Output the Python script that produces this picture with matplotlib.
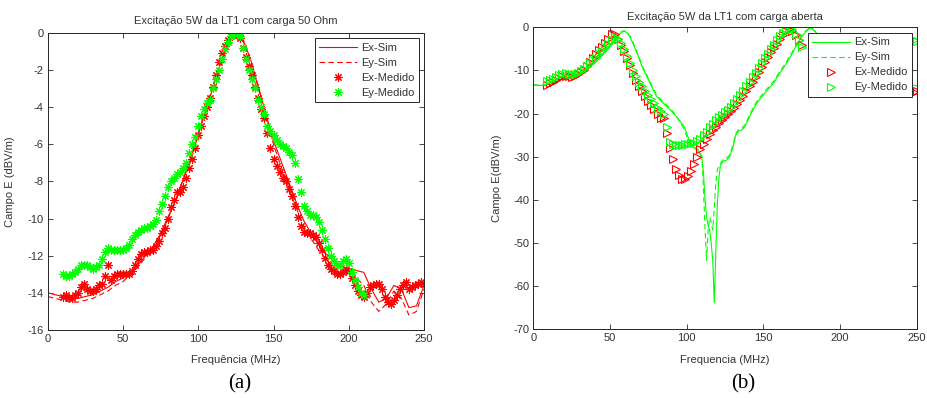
import numpy as np
import matplotlib
matplotlib.use("Agg")
import matplotlib.pyplot as plt

plt.rcParams['font.family'] = ['Liberation Sans', 'DejaVu Sans']

# ---------------- data: panel (a) ----------------
ex_med_a_start, med_a_step = 10, 2
ex_med_a = [-14.2, -14.1, -14.3, -14.3, -14.1, -14.0, -13.7, -13.5, -13.8, -13.9,
            -13.9, -13.8, -13.6, -13.5, -13.1, -12.5, -13.3, -13.1, -13.0, -13.0,
            -13.0, -13.0, -13.0, -12.8, -12.5, -12.2, -11.9, -11.8, -11.8, -11.7,
            -11.7, -11.5, -11.2, -10.8, -10.5, -10.0, -9.4, -9.0, -8.6, -8.6,
            -8.3, -7.8, -7.3, -6.8, -6.2, -5.5, -5.0, -4.5, -4.0, -3.5,
            -2.9, -2.3, -1.6, -1.1, -0.7, -0.4, -0.2, -0.05, -0.1, -0.3,
            -0.8, -1.3, -1.8, -2.3, -2.9, -3.5, -4.1, -4.6, -5.4, -6.2,
            -6.8, -7.2, -7.5, -7.8, -8.0, -8.4, -8.8, -9.3, -9.9, -10.4,
            -10.7, -10.8, -10.8, -10.9, -11.0, -11.3, -11.7, -12.1, -12.5, -12.7,
            -12.8, -13.0, -13.0, -12.9, -12.7, -12.8, -13.2, -13.6, -13.9, -14.1,
            -14.2, -14.0, -13.7, -13.6, -13.5, -13.5, -13.8, -14.2, -14.5, -14.6,
            -14.4, -14.1, -13.8, -13.6, -13.4, -13.8, -13.7, -13.6, -13.5, -13.4,
            -13.5]
ey_med_a_start = 10
ey_med_a = [-13.0, -13.1, -13.1, -13.0, -12.9, -12.7, -12.5, -12.5, -12.5, -12.6,
            -12.7, -12.6, -12.5, -12.2, -11.8, -11.6, -11.7, -11.7, -11.7, -11.7,
            -11.7, -11.6, -11.4, -11.1, -10.9, -10.7, -10.6, -10.5, -10.5, -10.4,
            -10.3, -10.1, -9.6, -9.2, -8.8, -8.3, -8.0, -7.8, -7.6, -7.5,
            -7.3, -7.0, -6.5, -6.0, -5.6, -5.0, -4.5, -4.1, -3.8, -3.6,
            -3.0, -2.5, -2.0, -1.4, -0.9, -0.5, -0.2, -0.05, 0.0, -0.2,
            -0.8, -1.4, -2.0, -2.5, -3.0, -3.6, -4.0, -4.4, -5.0, -5.3,
            -5.5, -5.8, -6.0, -6.1, -6.2, -6.4, -6.6, -7.0, -7.9, -8.6,
            -9.3, -9.6, -9.8, -9.8, -9.9, -10.2, -10.6, -11.1, -11.6, -12.0,
            -12.3, -12.5, -12.5, -12.3, -12.2, -12.4, -12.9, -13.3, -13.7, -14.0,
            -14.1]

sim_a_freq = [0, 5, 10, 15, 20, 25, 30, 35, 40, 45, 50, 55, 60, 65, 70, 75, 80, 85,
              90, 95, 100, 105, 110, 115, 120, 125, 130, 135, 140, 145, 150, 155,
              160, 165, 170, 175, 180, 185, 190, 195, 200, 205, 210, 215, 220, 225,
              230, 235, 240, 245, 250]
ex_sim_a = [-14.0, -14.1, -14.2, -14.3, -14.3, -14.2, -14.1, -13.9, -13.7, -13.4,
            -13.2, -12.9, -12.5, -12.0, -11.5, -10.8, -9.9, -9.0, -7.9, -6.8,
            -5.5, -4.2, -2.9, -1.6, -0.6, -0.05, -0.4, -1.5, -2.9, -4.4,
            -5.8, -6.9, -8.0, -9.1, -10.1, -10.8, -11.4, -11.9, -12.3, -12.6,
            -12.7, -12.8, -12.9, -13.8, -14.5, -14.3, -13.6, -13.8, -14.8, -14.7,
            -13.6]
ey_sim_a = [-14.2, -14.3, -14.4, -14.5, -14.5, -14.4, -14.3, -14.1, -13.9, -13.6,
            -13.4, -13.0, -12.6, -12.1, -11.6, -10.9, -10.0, -9.0, -7.9, -6.7,
            -5.4, -4.1, -2.8, -1.5, -0.5, -0.05, -0.5, -1.6, -3.0, -4.6,
            -6.0, -7.2, -8.3, -9.4, -10.4, -11.1, -11.7, -12.2, -12.6, -12.9,
            -13.1, -13.2, -13.6, -14.5, -15.0, -14.6, -13.9, -14.3, -15.2, -15.0,
            -13.8]

# ---------------- data: panel (b) ----------------
med_b_start, med_b_step = 9, 2
ex_med_b = [-13.4, -13.0, -12.6, -12.2, -11.8, -11.4, -11.3, -11.4, -11.5, -11.3,
            -10.9, -10.4, -9.8, -9.0, -8.0, -7.0, -6.2, -5.3, -4.6, -3.6,
            -2.6, -1.5, -1.6, -2.6, -4.0, -5.5, -7.2, -8.8, -10.5, -12.2,
            -13.6, -14.8, -16.0, -17.0, -18.0, -19.0, -20.0, -21.0, -21.0, -24.5,
            -28.0, -30.5, -32.8, -34.2, -35.2, -35.2, -34.5, -33.2, -31.8, -30.0,
            -28.2, -27.0, -25.8, -24.8, -23.8, -23.0, -22.2, -21.5, -20.8, -20.1,
            -19.4, -18.6, -17.8, -16.9, -15.9, -14.8, -13.7, -12.6, -11.5, -10.3,
            -9.1, -8.0, -6.9, -5.8, -4.7, -3.8, -2.8, -1.8, -0.9, -0.3,
            -0.8, -1.8, -3.0, -4.2]
ey_med_b = [-12.5, -12.2, -11.9, -11.5, -11.1, -10.8, -10.7, -10.8, -10.9, -10.8,
            -10.5, -10.1, -9.6, -9.0, -8.3, -7.6, -7.0, -6.2, -5.4, -4.6,
            -3.8, -3.0, -2.3, -2.6, -3.6, -5.0, -6.6, -8.2, -9.8, -11.3,
            -12.6, -13.7, -14.8, -15.6, -16.6, -17.6, -18.6, -19.4, -20.0, -23.0,
            -26.5, -27.0, -27.2, -27.3, -27.2, -27.1, -27.0, -26.9, -26.8, -26.4,
            -25.8, -25.0, -24.2, -23.0, -22.3, -21.6, -20.9, -20.3, -19.7, -19.1,
            -18.4, -17.6, -16.7, -15.8, -14.7, -13.6, -12.6, -11.6, -10.5, -9.4,
            -8.3, -7.2, -6.1, -5.0, -4.0, -3.0, -2.1, -1.3, -0.6, -0.1,
            -0.3, -1.6, -3.0, -4.6]
med_b_tail_freq = [248, 250]
ex_med_b_tail = [-15.0, -14.8]
ey_med_b_tail = [-3.0, -3.2]

ex_sim_b_freq = [0, 4, 8, 12, 16, 20, 25, 30, 35, 40, 45, 50, 54, 57, 59, 61, 63, 65,
                 68, 71, 74, 77, 80, 83, 86, 89, 92, 95, 98, 100, 102, 104, 106, 108,
                 110, 111, 112, 113, 114, 115, 116, 117, 118, 119, 120, 121, 122,
                 124, 126, 128, 130, 132, 134, 136, 138, 140, 142, 145, 148, 151,
                 154, 157, 160, 163, 166, 169, 172, 175, 178, 180, 182, 184, 190,
                 200, 215, 230, 250]
ex_sim_b = [-13.4, -13.5, -13.4, -13.0, -12.4, -11.9, -11.5, -11.0, -9.8, -8.3,
            -6.5, -4.5, -2.7, -1.3, -0.9, -1.2, -2.2, -3.8, -6.3, -9.2,
            -11.4, -13.6, -15.8, -17.0, -18.0, -19.0, -20.2, -21.4, -22.8, -24.5,
            -26.5, -27.8, -28.3, -28.8, -30.5, -34.0, -40.0, -44.0, -46.0, -47.0,
            -50.0, -54.0, -63.8, -52.0, -41.0, -35.0, -32.0, -31.0, -30.8, -30.0,
            -28.0, -25.0, -24.0, -23.8, -23.0, -21.5, -20.0, -18.0, -16.5, -15.3,
            -14.0, -12.8, -11.0, -9.5, -7.8, -6.0, -4.0, -2.2, -0.9, -0.3,
            -0.3, -1.0, -4.0, -8.0, -11.0, -12.8, -13.5]
ey_sim_b_freq = [0, 4, 8, 12, 16, 20, 25, 30, 35, 40, 45, 50, 54, 57, 59, 61, 63, 65,
                 68, 71, 74, 77, 80, 83, 86, 89, 92, 95, 98, 100, 102, 104, 106, 108,
                 110, 111, 112, 113, 114, 115, 116, 117, 118, 119, 120, 122, 124,
                 126, 128, 130, 132, 134, 136, 138, 140, 142, 145, 148, 151, 154,
                 157, 160, 163, 166, 169, 172, 175, 178, 180, 182, 184, 190, 200,
                 215, 230, 250]
ey_sim_b = [-13.3, -13.4, -13.3, -12.9, -12.3, -11.8, -11.4, -10.8, -9.6, -8.0,
            -6.2, -4.2, -2.4, -1.1, -0.8, -1.0, -2.0, -3.5, -6.0, -8.9,
            -11.1, -13.3, -15.4, -16.7, -17.7, -18.7, -19.9, -21.6, -23.4, -25.2,
            -26.8, -27.6, -28.0, -28.5, -30.0, -38.0, -47.0, -54.0, -47.0, -44.0,
            -45.0, -47.0, -42.0, -36.0, -33.0, -31.5, -30.5, -30.3, -29.6, -27.5,
            -24.6, -23.6, -23.4, -22.6, -21.1, -19.6, -17.6, -16.1, -14.9, -13.6,
            -12.4, -10.6, -9.1, -7.4, -5.6, -3.6, -1.9, -0.7, -0.2, -0.3,
            -1.1, -4.2, -8.2, -11.2, -13.0, -13.6]

# ---------------- drawing ----------------
RED = (1, 0, 0)
GREEN = (0, 1, 0)
AXC = '#262626'
TXT = '#333333'
FS = 8

fig = plt.figure(figsize=(9.27, 3.98), dpi=100)
axa = fig.add_axes([0.0515, 0.1709, 0.4059, 0.7469])
axb = fig.add_axes([0.5753, 0.1726, 0.4136, 0.7588])

asterisk = (8, 2, 0)

def style(ax, yticks, ylim):
    ax.set_xlim(0, 250)
    ax.set_ylim(*ylim)
    ax.set_xticks([0, 50, 100, 150, 200, 250])
    ax.set_yticks(yticks)
    ax.set_yticklabels([f"{t:g}" for t in yticks])
    ax.tick_params(direction='in', length=3.5, width=0.6, colors=AXC,
                   labelcolor=TXT, labelsize=FS, top=True, right=True, pad=3)
    for s in ax.spines.values():
        s.set_color(AXC)
        s.set_linewidth(0.7)

def legend(ax, anchor):
    lg = ax.legend(loc='upper right', bbox_to_anchor=anchor, fontsize=FS,
                   frameon=True, fancybox=False, edgecolor=AXC, framealpha=1,
                   handlelength=3.4, handletextpad=0.4, labelspacing=0.45,
                   borderpad=0.4, borderaxespad=0)
    lg.get_frame().set_linewidth(0.7)
    for t in lg.get_texts():
        t.set_color(TXT)
    return lg

# panel (a)
fa_ex = ex_med_a_start + med_a_step * np.arange(len(ex_med_a))
fa_ey = ey_med_a_start + med_a_step * np.arange(len(ey_med_a))
axa.plot(sim_a_freq, ex_sim_a, '-', color=RED, lw=0.8, label='Ex-Sim')
axa.plot(sim_a_freq, ey_sim_a, '--', color=RED, lw=0.8, dashes=(5, 3), label='Ey-Sim')
axa.plot(fa_ex, ex_med_a, ls='none', marker=asterisk, color=RED, ms=6, mew=0.8,
         label='Ex-Medido')
axa.plot(fa_ey, ey_med_a, ls='none', marker=asterisk, color=GREEN, ms=6, mew=0.8,
         label='Ey-Medido')
style(axa, list(range(-16, 1, 2)), (-16, 0))
axa.set_title('Excitação 5W da LT1 com carga 50 Ohm', fontsize=FS, color=TXT, pad=6)
axa.set_xlabel('Frequência (MHz)', fontsize=FS, color=TXT)
axa.set_ylabel('Campo E (dBV/m)', fontsize=FS, color=TXT)
axa.xaxis.set_label_coords(0.5, -0.084)
axa.yaxis.set_label_coords(-0.087, 0.5)
legend(axa, (0.987, 0.982))

# panel (b)
fb_ex = np.concatenate([med_b_start + med_b_step * np.arange(len(ex_med_b)), med_b_tail_freq])
fb_ey = np.concatenate([med_b_start + med_b_step * np.arange(len(ey_med_b)), med_b_tail_freq])
axb.plot(ex_sim_b_freq, ex_sim_b, '-', color=GREEN, lw=0.8, label='Ex-Sim')
axb.plot(ey_sim_b_freq, ey_sim_b, '--', color=GREEN, lw=0.8, dashes=(5, 3), label='Ey-Sim')
axb.plot(fb_ex, np.concatenate([ex_med_b, ex_med_b_tail]), ls='none', marker='>',
         mfc='none', mec=RED, ms=5.5, mew=0.8, label='Ex-Medido')
axb.plot(fb_ey, np.concatenate([ey_med_b, ey_med_b_tail]), ls='none', marker='>',
         mfc='none', mec=GREEN, ms=5.5, mew=0.8, label='Ey-Medido')
style(axb, list(range(-70, 1, 10)), (-70, 0))
axb.set_title('Excitação 5W da LT1 com carga aberta', fontsize=FS, color=TXT, pad=5)
axb.set_xlabel('Frequencia (MHz)', fontsize=FS, color=TXT)
axb.set_ylabel('Campo E(dBV/m)', fontsize=FS, color=TXT)
axb.xaxis.set_label_coords(0.5, -0.085)
axb.yaxis.set_label_coords(-0.082, 0.5)
legend(axb, (0.988, 0.981))

# captions
fig.text(240 / 927, 1 - 384 / 398, '(a)', family=['Liberation Serif', 'DejaVu Serif'],
         fontsize=15, ha='center', va='center', color='black')
fig.text(743 / 927, 1 - 384 / 398, '(b)', family=['Liberation Serif', 'DejaVu Serif'],
         fontsize=15, ha='center', va='center', color='black')

fig.savefig('out.png', dpi=100)
